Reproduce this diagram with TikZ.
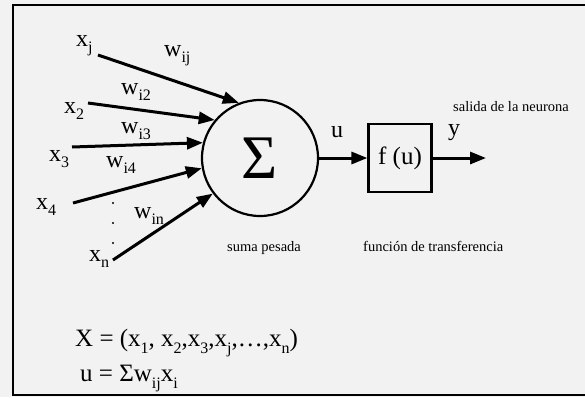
\documentclass[tikz,border=0pt]{standalone}
\usepackage{fontspec}
\setmainfont{Liberation Serif}
\usetikzlibrary{arrows.meta,positioning}
\newcommand{\ix}[1]{\raisebox{-0.28em}{\fontsize{16}{16}\selectfont #1}}

\begin{document}
\begin{tikzpicture}[x=1pt, y=-1pt,
  lbl/.style={font=\fontsize{24}{26}\selectfont, inner sep=0pt, anchor=base west},
  note/.style={font=\fontsize{14.5}{16}\selectfont, inner sep=0pt, anchor=base west},
  sig/.style={->, line width=3pt},
  >={Triangle[length=16pt,width=12pt]}]
  \fill[black!5] (0,0) rectangle (585,397);
  \useasboundingbox (0,0) rectangle (585,397);
  \draw[line width=1.5pt] (585,5) -- (13,5) -- (13,395) -- (585,395);

  % neuron
  \node[circle, draw, line width=2.2pt, minimum size=116pt, inner sep=0pt] (sum) at (260,158) {\fontsize{62}{62}\selectfont Σ};
  \node[draw, line width=2.2pt, minimum width=63pt, minimum height=68pt, font=\fontsize{25}{27}\selectfont] (f) at (400,158) {f (u)};
  \coordinate (out) at (486,158);
  \draw[sig] (sum) -- (f);
  \draw[sig] (f) -- (out);
  \node[lbl] (u) at (331,137) {u};
  \node[lbl] (y) at (448,135) {y};
  \node[note] (salida) at (453,111) {salida de la neurona};
  \node[note] (transf) at (363,251) {función de transferencia};
  \node[note] (suma) at (227,251) {suma pesada};

  % inputs
  \node[lbl] (xj) at (76,46) {x\ix{j}};
  \node[lbl] (x2) at (64,113) {x\ix{2}};
  \node[lbl] (x3) at (49,161) {x\ix{3}};
  \node[lbl] (x4) at (36,209) {x\ix{4}};
  \node[lbl] (xn) at (89,261) {x\ix{n}};
  \coordinate (tj) at (98,55);
  \coordinate (t2) at (88,103);
  \coordinate (t3) at (72,147);
  \coordinate (t4) at (73,203);
  \coordinate (tn) at (113,260);
  \draw[sig] (tj) -- (sum.111);
  \draw[sig] (t2) -- (sum.140);
  \draw[sig] (t3) -- (sum.165);
  \draw[sig] (t4) -- (sum.190);
  \draw[sig] (tn) -- (sum.217);
  \foreach \yy in {203,223,243}
    \fill (113,\yy) circle (1.2);

  % weights
  \node[lbl] (wij) at (164,56) {w\ix{ij}};
  \node[lbl] (wi2) at (121,94) {w\ix{i2}};
  \node[lbl] (wi3) at (121,133) {w\ix{i3}};
  \node[lbl] (wi4) at (106,167) {w\ix{i4}};
  \node[lbl] (win) at (134,218) {w\ix{in}};

  % formulas
  \node[lbl, font=\fontsize{25}{27}\selectfont] (X) at (75,346) {X = (x\ix{1}, x\ix{2},x\ix{3},x\ix{j},\ldots,x\ix{n})};
  \node[lbl, font=\fontsize{25}{27}\selectfont] (uf) at (80,381) {u = Σw\ix{ij}x\ix{i}};
\end{tikzpicture}
\end{document}
